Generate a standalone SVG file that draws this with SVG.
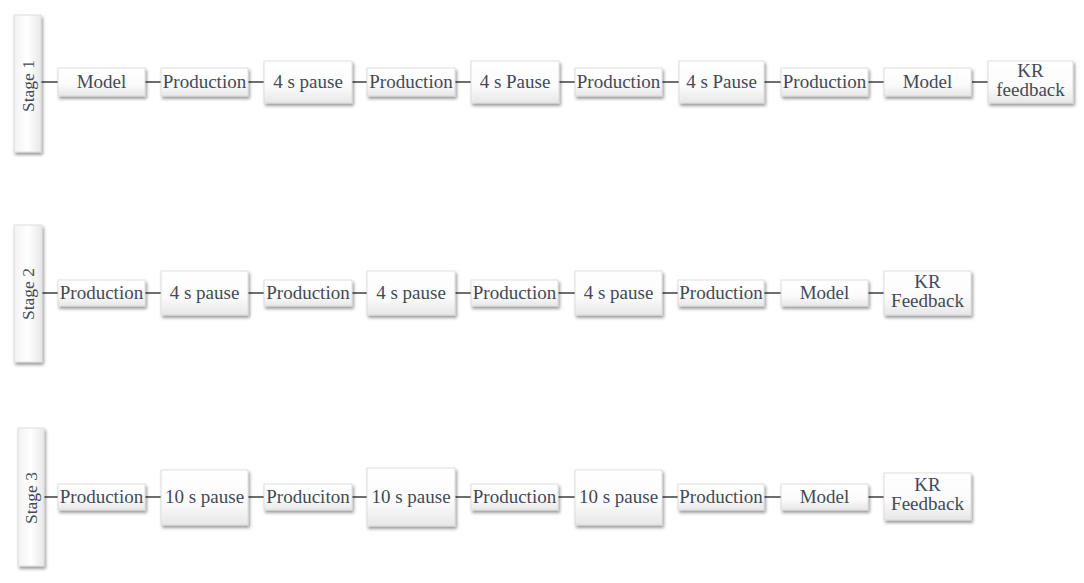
<svg xmlns="http://www.w3.org/2000/svg" width="1084" height="583" viewBox="0 0 1084 583">
<defs>
<linearGradient id="g" x1="0" y1="0" x2="0" y2="1">
<stop offset="0" stop-color="#ffffff"/>
<stop offset="0.6" stop-color="#fbfbfb"/>
<stop offset="1" stop-color="#e7e7e7"/>
</linearGradient>
<linearGradient id="gs" x1="0" y1="0" x2="1" y2="0">
<stop offset="0" stop-color="#f2f2f2"/>
<stop offset="0.5" stop-color="#ffffff"/>
<stop offset="1" stop-color="#e8e8e8"/>
</linearGradient>
<filter id="sh" x="-20%" y="-20%" width="140%" height="150%">
<feDropShadow dx="1.5" dy="2.5" stdDeviation="1.6" flood-color="#000" flood-opacity="0.4"/>
</filter>
</defs>
<style>
.b{fill:url(#g);stroke:#d8d8d8;stroke-width:0.8;filter:url(#sh)}
.s{fill:url(#gs);stroke:#d8d8d8;stroke-width:0.8;filter:url(#sh)}
.t{font-family:"Liberation Serif","DejaVu Serif",serif;font-size:19px;fill:#434a56;text-anchor:middle}
.st{font-family:"Liberation Serif","DejaVu Serif",serif;font-size:17.5px;fill:#434a56;text-anchor:middle}
.c{stroke:#6e6e6e;stroke-width:2;fill:none}
</style>
<rect width="1084" height="583" fill="#ffffff"/>
<g id="connectors">
<path class="c" d="M41 82H58M145 82H161M248 82H264M352 82H367M455 82H471M559 82H575M662 82H679M764 82H781M868 82H884M972 82H988"/>
<path class="c" d="M42 293H58M145 293H161M248 293H264M455 293H471M558 293H575M662 293H678M764 293H781M868 293H884M352 293H367"/>
<path class="c" d="M44 497H58M145 497H161M248 497H264M352 497H367M455 497H471M558 497H575M662 497H678M764 497H781M868 497H884"/>
</g>
<g id="stage1"><rect class="s" x="14" y="15" width="27" height="137"/><text class="st" transform="translate(33.5,86) rotate(-90)">Stage 1</text></g>
<g id="r1n1"><rect class="b" x="58" y="68" width="87" height="28"/><text class="t" x="101.5" y="88">Model</text></g>
<g id="r1n2"><rect class="b" x="161" y="68" width="87" height="28"/><text class="t" x="204.5" y="88">Production</text></g>
<g id="r1n3"><rect class="b" x="264" y="61" width="88" height="42"/><text class="t" x="308" y="88">4 s pause</text></g>
<g id="r1n4"><rect class="b" x="367" y="68" width="88" height="28"/><text class="t" x="411" y="88">Production</text></g>
<g id="r1n5"><rect class="b" x="471" y="61" width="88" height="42"/><text class="t" x="515" y="88">4 s Pause</text></g>
<g id="r1n6"><rect class="b" x="575" y="68" width="87" height="28"/><text class="t" x="618.5" y="88">Production</text></g>
<g id="r1n7"><rect class="b" x="679" y="61" width="85" height="42"/><text class="t" x="721.5" y="88">4 s Pause</text></g>
<g id="r1n8"><rect class="b" x="781" y="68" width="87" height="28"/><text class="t" x="824.5" y="88">Production</text></g>
<g id="r1n9"><rect class="b" x="884" y="68" width="87" height="28"/><text class="t" x="927.5" y="88">Model</text></g>
<g id="r1n10"><rect class="b" x="988" y="61" width="85" height="42"/><text class="t" x="1030.5" y="77">KR</text><text class="t" x="1030.5" y="96">feedback</text></g>
<g id="stage2"><rect class="s" x="14" y="225" width="28" height="137"/><text class="st" transform="translate(34,294) rotate(-90)">Stage 2</text></g>
<g id="r2n1"><rect class="b" x="58" y="280" width="87" height="26"/><text class="t" x="101.5" y="299">Production</text></g>
<g id="r2n2"><rect class="b" x="161" y="271" width="87" height="44"/><text class="t" x="204.5" y="299">4 s pause</text></g>
<g id="r2n3"><rect class="b" x="264" y="280" width="88" height="26"/><text class="t" x="308" y="299">Production</text></g>
<g id="r2n4"><rect class="b" x="367" y="271" width="88" height="44"/><text class="t" x="411" y="299">4 s pause</text></g>
<g id="r2n5"><rect class="b" x="471" y="280" width="87" height="26"/><text class="t" x="514.5" y="299">Production</text></g>
<g id="r2n6"><rect class="b" x="575" y="271" width="87" height="44"/><text class="t" x="618.5" y="299">4 s pause</text></g>
<g id="r2n7"><rect class="b" x="678" y="280" width="86" height="26"/><text class="t" x="721" y="299">Production</text></g>
<g id="r2n8"><rect class="b" x="781" y="280" width="87" height="26"/><text class="t" x="824.5" y="299">Model</text></g>
<g id="r2n9"><rect class="b" x="884" y="271" width="87" height="44"/><text class="t" x="927.5" y="288">KR</text><text class="t" x="927.5" y="307">Feedback</text></g>
<g id="stage3"><rect class="s" x="18" y="428" width="26" height="138"/><text class="st" transform="translate(37,498) rotate(-90)">Stage 3</text></g>
<g id="r3n1"><rect class="b" x="58" y="484" width="87" height="26"/><text class="t" x="101.5" y="503">Production</text></g>
<g id="r3n2"><rect class="b" x="161" y="470" width="87" height="55"/><text class="t" x="204.5" y="503">10 s pause</text></g>
<g id="r3n3"><rect class="b" x="264" y="484" width="88" height="26"/><text class="t" x="308" y="503">Produciton</text></g>
<g id="r3n4"><rect class="b" x="367" y="468" width="88" height="58"/><text class="t" x="411" y="503">10 s pause</text></g>
<g id="r3n5"><rect class="b" x="471" y="484" width="87" height="26"/><text class="t" x="514.5" y="503">Production</text></g>
<g id="r3n6"><rect class="b" x="575" y="470" width="87" height="55"/><text class="t" x="618.5" y="503">10 s pause</text></g>
<g id="r3n7"><rect class="b" x="678" y="484" width="86" height="26"/><text class="t" x="721" y="503">Production</text></g>
<g id="r3n8"><rect class="b" x="781" y="484" width="87" height="26"/><text class="t" x="824.5" y="503">Model</text></g>
<g id="r3n9"><rect class="b" x="884" y="473" width="87" height="47"/><text class="t" x="927.5" y="491">KR</text><text class="t" x="927.5" y="510">Feedback</text></g>
</svg>
